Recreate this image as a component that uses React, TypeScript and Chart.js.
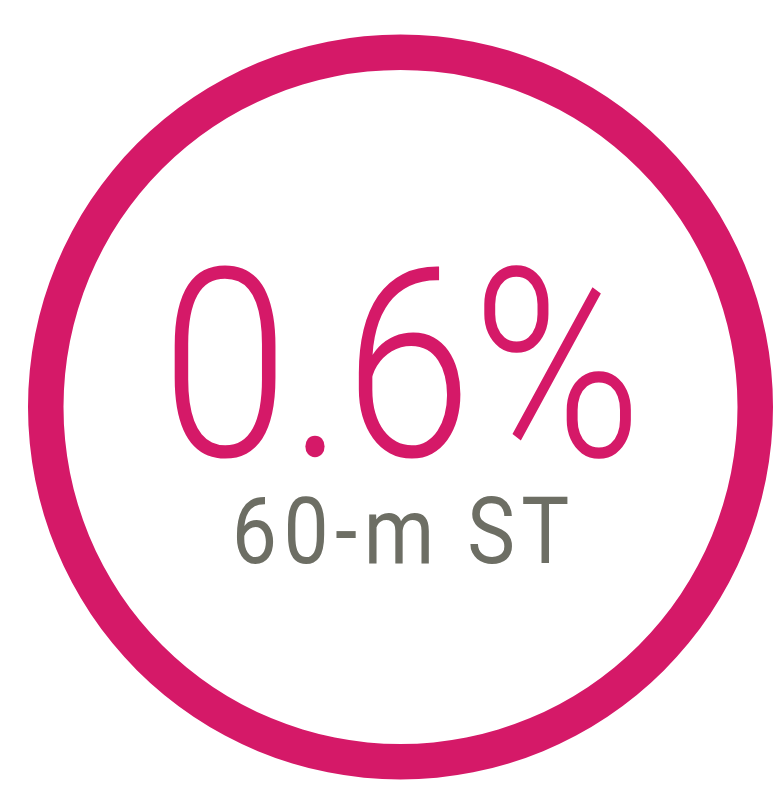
import React, { useEffect, useRef } from "react";
import { Chart, registerables } from "chart.js";

Chart.register(...registerables);

const ringLabels = ["60-m ST"];
const ringValues = [100];
const valueLabel = "0.6%";
const subLabel = "60-m ST";

const PINK = "#D51968";
const GRAY = "#6D6E64";

function drawFitted(
  ctx: CanvasRenderingContext2D,
  text: string,
  weight: string,
  color: string,
  centerX: number,
  baseline: number,
  targetW: number,
  targetH: number,
  spacing: number
) {
  ctx.save();
  const base = 100;
  ctx.font = `${weight} ${base}px Roboto`;
  (ctx as any).letterSpacing = `${spacing}px`;
  let m = ctx.measureText(text);
  const size = (base * targetH) / m.actualBoundingBoxAscent;
  ctx.font = `${weight} ${size}px Roboto`;
  (ctx as any).letterSpacing = `${(spacing * size) / base}px`;
  m = ctx.measureText(text);
  const w = m.actualBoundingBoxLeft + m.actualBoundingBoxRight;
  const sx = targetW / w;
  ctx.translate(centerX, baseline);
  ctx.scale(sx, 1);
  ctx.fillStyle = color;
  ctx.textAlign = "left";
  ctx.textBaseline = "alphabetic";
  ctx.fillText(text, -(m.actualBoundingBoxRight - m.actualBoundingBoxLeft) / 2, 0);
  ctx.restore();
}

const centerText = {
  id: "centerText",
  afterDraw(chart: any) {
    const arc = chart.getDatasetMeta(0).data[0];
    if (!arc) return;
    const ctx = chart.ctx as CanvasRenderingContext2D;
    drawFitted(ctx, valueLabel, "300", PINK, arc.x + 2.5, arc.y + 49, 462, 193, 0);
    drawFitted(ctx, subLabel, "400", GRAY, arc.x + 2, arc.y + 156, 331, 68, 8);
  },
};

export default function App() {
  const ref = useRef<HTMLCanvasElement | null>(null);
  useEffect(() => {
    if (!ref.current) return;
    const chart = new Chart(ref.current, {
      type: "doughnut",
      data: {
        labels: ringLabels,
        datasets: [
          {
            data: ringValues,
            backgroundColor: PINK,
            borderWidth: 0,
            hoverOffset: 0,
          },
        ],
      },
      options: {
        animation: false,
        responsive: true,
        maintainAspectRatio: false,
        cutout: 337,
        layout: { padding: { left: 28, right: 0, top: 34, bottom: 6 } },
        plugins: {
          legend: { display: false },
          tooltip: { enabled: false },
        },
        events: [],
      },
      plugins: [centerText],
    });
    return () => chart.destroy();
  }, []);
  return (
    <div
      style={{
        position: "fixed",
        left: 0,
        top: 0,
        width: 773,
        height: 786,
        background: "#ffffff",
      }}
    >
      <canvas ref={ref} />
    </div>
  );
}
